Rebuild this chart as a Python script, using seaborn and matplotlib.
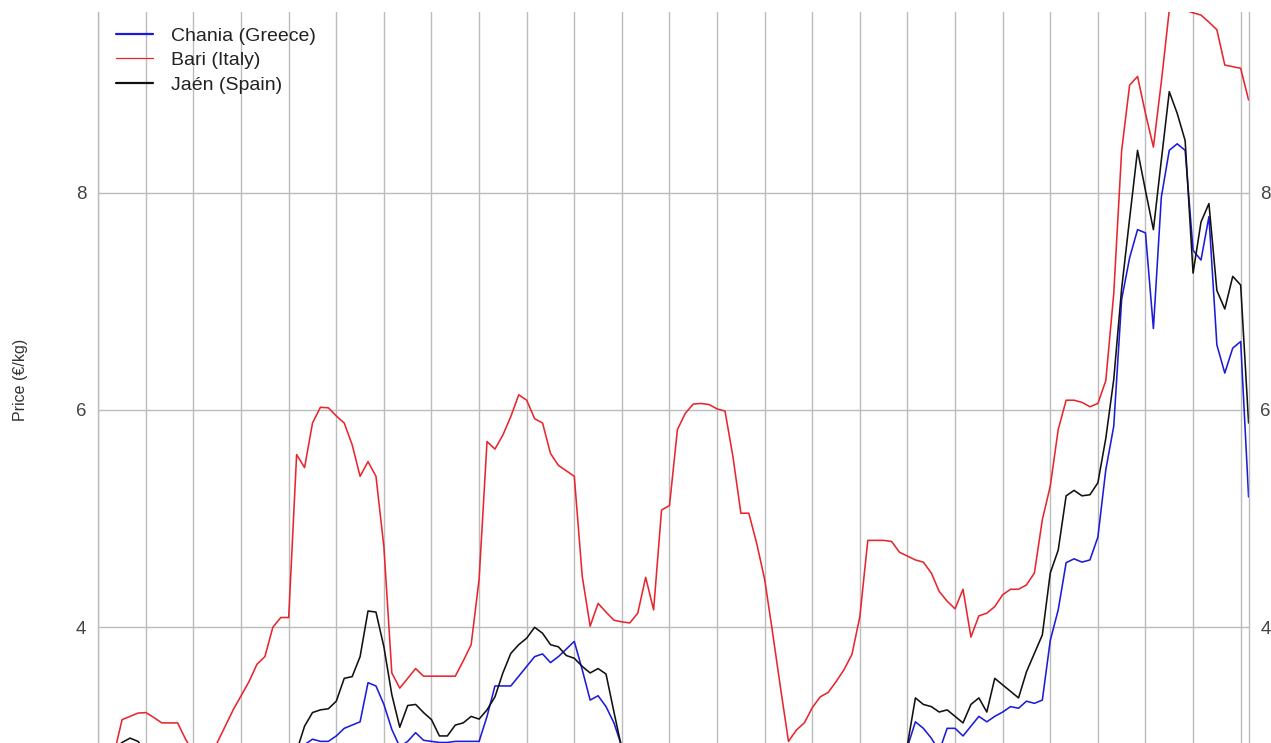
import matplotlib
matplotlib.use("Agg")
import matplotlib.pyplot as plt
import numpy as np
import pandas as pd
import seaborn as sns

# ---- data (monthly points; gridlines every 6 months) ----
months = list(range(146))

chania = [2.85, 2.88, 2.86, 2.88, 2.90, 2.88, 2.82, 2.78, 2.75, 2.72,
          2.70, 2.66, 2.62, 2.60, 2.60, 2.62, 2.64, 2.66, 2.68, 2.70,
          2.72, 2.75, 2.78, 2.80, 2.84, 2.88, 2.92, 2.97, 2.95, 2.95,
          3.00, 3.07, 3.10, 3.13, 3.49, 3.46, 3.29, 3.06, 2.90, 2.95,
          3.03, 2.96, 2.95, 2.94, 2.94, 2.95, 2.95, 2.95, 2.95, 3.18,
          3.46, 3.46, 3.46, 3.55, 3.64, 3.73, 3.755, 3.675, 3.73, 3.80,
          3.87, 3.61, 3.33, 3.37, 3.27, 3.12, 2.90, 2.80, 2.72, 2.66,
          2.62, 2.60, 2.58, 2.58, 2.60, 2.62, 2.64, 2.65, 2.66, 2.64,
          2.60, 2.55, 2.50, 2.45, 2.40, 2.35, 2.30, 2.28, 2.30, 2.35,
          2.40, 2.45, 2.50, 2.55, 2.60, 2.65, 2.70, 2.72, 2.74, 2.75,
          2.76, 2.80, 2.90, 3.13, 3.07, 2.98, 2.86, 3.07, 3.07, 3.00,
          3.09, 3.18, 3.13, 3.18, 3.22, 3.27, 3.255, 3.32, 3.30, 3.33,
          3.88, 4.16, 4.595, 4.63, 4.60, 4.62, 4.83, 5.45, 5.85, 7.02,
          7.40, 7.66, 7.63, 6.75, 7.96, 8.39, 8.45, 8.39, 7.47, 7.38,
          7.78, 6.60, 6.34, 6.57, 6.63, 5.20]

bari = [2.75, 2.78, 2.84, 3.15, 3.18, 3.21, 3.215, 3.17, 3.12, 3.12,
        3.12, 2.97, 2.85, 2.72, 2.78, 2.94, 3.09, 3.24, 3.37, 3.50,
        3.66, 3.73, 4.00, 4.09, 4.09, 5.59, 5.47, 5.88, 6.025, 6.02,
        5.945, 5.88, 5.68, 5.39, 5.525, 5.39, 4.74, 3.58, 3.44, 3.53,
        3.62, 3.55, 3.55, 3.55, 3.55, 3.55, 3.69, 3.84, 4.44, 5.71,
        5.64, 5.77, 5.94, 6.14, 6.09, 5.92, 5.88, 5.60, 5.49, 5.44,
        5.39, 4.47, 4.01, 4.22, 4.14, 4.065, 4.05, 4.04, 4.13, 4.46,
        4.16, 5.08, 5.12, 5.82, 5.97, 6.055, 6.06, 6.05, 6.01, 5.99,
        5.57, 5.05, 5.05, 4.77, 4.44, 3.95, 3.44, 2.95, 3.055, 3.12,
        3.26, 3.36, 3.40, 3.50, 3.61, 3.75, 4.10, 4.80, 4.80, 4.80,
        4.79, 4.69, 4.655, 4.62, 4.60, 4.50, 4.33, 4.24, 4.17, 4.35,
        3.91, 4.105, 4.13, 4.19, 4.30, 4.35, 4.35, 4.39, 4.50, 4.99,
        5.30, 5.82, 6.09, 6.09, 6.07, 6.03, 6.06, 6.27, 7.07, 8.39,
        8.99, 9.07, 8.73, 8.42, 9.02, 9.68, 9.70, 9.68, 9.656, 9.635,
        9.57, 9.50, 9.175, 9.16, 9.145, 8.853]

jaen = [2.80, 2.84, 2.88, 2.94, 2.98, 2.95, 2.86, 2.80, 2.75, 2.70,
        2.66, 2.62, 2.58, 2.55, 2.55, 2.56, 2.58, 2.60, 2.62, 2.65,
        2.68, 2.72, 2.75, 2.78, 2.80, 2.86, 3.09, 3.215, 3.24, 3.25,
        3.32, 3.53, 3.546, 3.73, 4.15, 4.14, 3.82, 3.38, 3.08, 3.28,
        3.29, 3.215, 3.15, 3.00, 3.00, 3.10, 3.12, 3.18, 3.155, 3.24,
        3.36, 3.58, 3.76, 3.84, 3.90, 4.00, 3.945, 3.84, 3.82, 3.74,
        3.715, 3.64, 3.58, 3.62, 3.57, 3.22, 2.88, 2.82, 2.76, 2.72,
        2.70, 2.68, 2.67, 2.67, 2.68, 2.70, 2.72, 2.73, 2.74, 2.72,
        2.68, 2.63, 2.58, 2.53, 2.48, 2.43, 2.38, 2.36, 2.38, 2.43,
        2.48, 2.53, 2.58, 2.63, 2.68, 2.72, 2.76, 2.78, 2.80, 2.82,
        2.84, 2.86, 2.92, 3.35, 3.29, 3.27, 3.22, 3.24, 3.18, 3.12,
        3.29, 3.35, 3.22, 3.53, 3.47, 3.41, 3.35, 3.59, 3.76, 3.93,
        4.50, 4.71, 5.21, 5.26, 5.21, 5.22, 5.33, 5.74, 6.28, 7.12,
        7.76, 8.39, 8.02, 7.66, 8.30, 8.93, 8.73, 8.48, 7.26, 7.73,
        7.90, 7.10, 6.93, 7.23, 7.15, 5.88]

series_names = ["Chania (Greece)", "Bari (Italy)", "Jaén (Spain)"]
series_colors = ["#1c1cd8", "#e8262e", "#111111"]
y_ticks = [4, 6, 8]

df = pd.DataFrame({
    "month": months * 3,
    "price": chania + bari + jaen,
    "series": [series_names[0]] * len(months) + [series_names[1]] * len(months)
              + [series_names[2]] * len(months),
})

sns.set_theme(style="white")
plt.rcParams["font.family"] = ["Liberation Sans", "DejaVu Sans"]

W, H = 1271, 743
fig = plt.figure(figsize=(W / 100, H / 100), dpi=100)
x0, x1, ytop = 98.3, 1248.6, 11.7
ax = fig.add_axes([x0 / W, 0.0, (x1 - x0) / W, 1 - ytop / H])

for name, col in zip(series_names, series_colors):
    sns.lineplot(data=df[df["series"] == name], x="month", y="price",
                 color=col, linewidth=1.15, label=name, ax=ax)

ax.set_xlim(0, 145)
ax.set_ylim(2.935, 9.666)
ax.set_xticks(list(range(0, 145, 6)))
ax.set_xticklabels([])
ax.set_yticks(y_ticks)
ax.set_yticklabels([str(t) for t in y_ticks])
grid_col = "#bcbcbc"
ax.grid(True, color=grid_col, linewidth=1.0)
ax.set_axisbelow(True)
for s in ["top", "bottom"]:
    ax.spines[s].set_visible(False)
for s in ["left", "right"]:
    ax.spines[s].set_color(grid_col)
    ax.spines[s].set_linewidth(1.0)
ax.tick_params(axis="x", length=0)
ax.tick_params(axis="y", length=0, labelleft=True, labelright=True,
               pad=8.5, labelsize=13.5, labelcolor="#444444")
ax.set_xlabel("")
ax.set_ylabel("Price (€/kg)", fontsize=11.5, color="#333333")
ax.yaxis.set_label_coords((28 - x0) / (x1 - x0), 0.496)

leg = ax.legend(loc="upper left", bbox_to_anchor=(17.7 / (x1 - x0), 1 - 15.5 / (H - ytop)),
                frameon=False, fontsize=14, borderpad=0, borderaxespad=0,
                handlelength=1.9, handletextpad=0.93, labelspacing=0.35)
for line, lw in zip(leg.get_lines(), [1.6, 0.9, 1.6]):
    line.set_linewidth(lw)
for t in leg.get_texts():
    t.set_color("#222222")

fig.savefig("out.png", dpi=100)
